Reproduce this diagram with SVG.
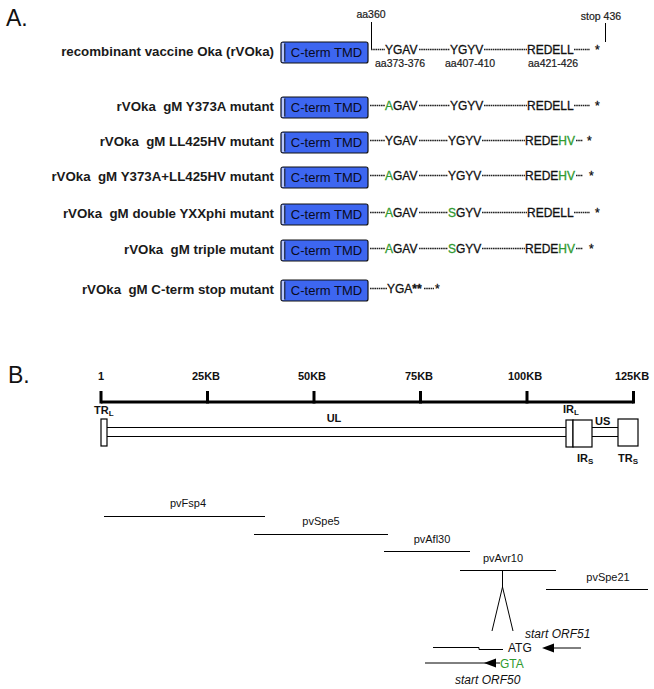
<svg xmlns="http://www.w3.org/2000/svg" width="654" height="689" viewBox="0 0 654 689">
<defs>
<style>
text{font-family:"Liberation Sans",Arial,sans-serif}
.hd{font-size:23px;fill:#111}
.lbl{font-size:13.3px;font-weight:bold;fill:#1a1a1a;text-anchor:end}
.seq{font-size:12px;fill:#111;stroke:#111;stroke-width:0.3}
.gr{fill:#2f9a2f;stroke:#2f9a2f}
.aa{font-size:10.5px;fill:#1a1a1a;stroke:#1a1a1a;stroke-width:0.2}
.box{fill:#3d66f0;stroke:#111;stroke-width:1.2}
.strip{fill:#b9c8fa;stroke:none}
.brk{fill:none;stroke:#111;stroke-width:1}
.tt{font-size:13px;fill:#0a0a20;text-anchor:middle}
.dsh{stroke:#222;stroke-width:1.5;stroke-dasharray:1.6 0.6;fill:none}
.ln{stroke:#000;stroke-width:1;fill:none}
.thk{stroke:#000;stroke-width:3;fill:none}
.gbox{fill:#fff;stroke:#000;stroke-width:1.2}
.rl{font-size:11px;font-weight:bold;fill:#111;text-anchor:middle}
.gl{font-size:11px;font-weight:bold;fill:#111}
.cl{font-size:11px;fill:#111;text-anchor:middle}
.orf{font-size:12px;fill:#111}
.it{font-size:12px;font-style:italic;fill:#111}
</style>
<g id="tmd">
<rect class="box" x="0" y="0" width="87" height="21" rx="2"/>
<rect class="strip" x="0.8" y="1" width="2.7" height="19"/>
<path class="brk" d="M3.8,1.5 V19.5"/>
<text class="tt" x="45.5" y="15">C-term TMD</text>
</g>
</defs>

<text class="hd" x="6" y="26">A.</text>
<text class="hd" x="8" y="383">B.</text>

<g id="row1">
<text class="lbl" x="274" y="56" xml:space="preserve">recombinant vaccine Oka (rVOka)</text>
<use href="#tmd" x="281" y="42"/>
<text class="seq" x="385" y="54">YGAV</text>
<text class="seq" x="450" y="54">YGYV</text>
<text class="seq" x="527" y="54">REDELL</text>
<text class="seq" x="595" y="54">*</text>
<text class="aa" x="371" y="18" text-anchor="middle">aa360</text>
<text class="aa" x="601" y="20" text-anchor="middle">stop 436</text>
<text class="aa" x="375" y="67">aa373-376</text>
<text class="aa" x="445" y="67">aa407-410</text>
<text class="aa" x="528" y="67">aa421-426</text>
</g>

<g id="row2">
<text class="lbl" x="274" y="111" xml:space="preserve">rVOka  gM Y373A mutant</text>
<use href="#tmd" x="281" y="97"/>
<text class="seq" x="385" y="110"><tspan class="gr">A</tspan>GAV</text>
<text class="seq" x="450" y="110">YGYV</text>
<text class="seq" x="527" y="110">REDELL</text>
<text class="seq" x="595" y="110">*</text>
</g>

<g id="row3">
<text class="lbl" x="274" y="146" xml:space="preserve">rVOka  gM LL425HV mutant</text>
<use href="#tmd" x="281" y="132"/>
<text class="seq" x="385" y="145">YGAV</text>
<text class="seq" x="448" y="145">YGYV</text>
<text class="seq" x="525" y="145">REDE<tspan class="gr">HV</tspan></text>
<text class="seq" x="587" y="145">*</text>
</g>

<g id="row4">
<text class="lbl" x="274" y="181" xml:space="preserve">rVOka  gM Y373A+LL425HV mutant</text>
<use href="#tmd" x="281" y="167"/>
<text class="seq" x="385" y="180"><tspan class="gr">A</tspan>GAV</text>
<text class="seq" x="448" y="180">YGYV</text>
<text class="seq" x="525" y="180">REDE<tspan class="gr">HV</tspan></text>
<text class="seq" x="589" y="180">*</text>
</g>

<g id="row5">
<text class="lbl" x="274" y="218" xml:space="preserve">rVOka  gM double YXXphi mutant</text>
<use href="#tmd" x="281" y="204"/>
<text class="seq" x="385" y="217"><tspan class="gr">A</tspan>GAV</text>
<text class="seq" x="448" y="217"><tspan class="gr">S</tspan>GYV</text>
<text class="seq" x="527" y="217">REDELL</text>
<text class="seq" x="595" y="217">*</text>
</g>

<g id="row6">
<text class="lbl" x="274" y="254" xml:space="preserve">rVOka  gM triple mutant</text>
<use href="#tmd" x="281" y="240"/>
<text class="seq" x="385" y="253"><tspan class="gr">A</tspan>GAV</text>
<text class="seq" x="448" y="253"><tspan class="gr">S</tspan>GYV</text>
<text class="seq" x="525" y="253">REDE<tspan class="gr">HV</tspan></text>
<text class="seq" x="589" y="253">*</text>
</g>

<g id="row7">
<text class="lbl" x="274" y="294" xml:space="preserve">rVOka  gM C-term stop mutant</text>
<use href="#tmd" x="281" y="280"/>
<text class="seq" x="387" y="293">YGA<tspan font-weight="bold">**</tspan></text>
<text class="seq" x="435" y="293">*</text>
</g>

<g id="ruler">
<path class="thk" d="M101,402 H633.5"/>
<path class="thk" d="M101,391 V403.5 M207.5,391 V403.5 M314,391 V403.5 M420.5,391 V403.5 M527,391 V403.5 M633.5,391 V403.5"/>
<text class="rl" x="101" y="380">1</text>
<text class="rl" x="206" y="380">25KB</text>
<text class="rl" x="312" y="380">50KB</text>
<text class="rl" x="419" y="380">75KB</text>
<text class="rl" x="525" y="380">100KB</text>
<text class="rl" x="632" y="380">125KB</text>
</g>

<g id="genome">
<path class="ln" stroke-width="1.3" d="M107,427.5 H566 M107,436.5 H566 M592,427.5 H618 M592,436.5 H618"/>
<rect class="gbox" x="101" y="419" width="6" height="27"/>
<rect class="gbox" x="566" y="420" width="7" height="27"/>
<rect class="gbox" x="573" y="420" width="19" height="27"/>
<rect class="gbox" x="618" y="419" width="20" height="27"/>
<text class="gl" x="94" y="414">TR<tspan font-size="8" dy="2">L</tspan></text>
<text class="gl" x="334" y="422" text-anchor="middle">UL</text>
<text class="gl" x="563" y="413">IR<tspan font-size="8" dy="2">L</tspan></text>
<text class="gl" x="595" y="425">US</text>
<text class="gl" x="577" y="462">IR<tspan font-size="8" dy="2">S</tspan></text>
<text class="gl" x="618" y="462">TR<tspan font-size="8" dy="2">S</tspan></text>
</g>

<g id="pvFsp4"><text class="cl" x="188" y="507">pvFsp4</text></g>
<g id="pvSpe5"><text class="cl" x="321" y="525">pvSpe5</text></g>
<g id="pvAfl30"><text class="cl" x="432" y="543">pvAfl30</text></g>
<g id="pvAvr10"><text class="cl" x="503" y="562">pvAvr10</text></g>
<g id="pvSpe21"><text class="cl" x="608" y="581">pvSpe21</text></g>

<g id="orf51">
<text class="orf" x="508" y="652">ATG</text>
<text class="it" x="525" y="638">start ORF51</text>
</g>
<g id="orf50">
<text class="orf" x="500" y="668" style="fill:#2f9a2f">GTA</text>
<text class="it" x="455" y="684">start ORF50</text>
</g>

<g id="connectors">
<path class="ln" d="M371.5,22 V50 M605.5,23 V42"/>
<path class="dsh" d="M371,49.5 H385 M419,49.5 H450 M484,49.5 H527 M574,49.5 H590"/>
<path class="dsh" d="M370,105.5 H385 M419,105.5 H450 M484,105.5 H527 M574,105.5 H590"/>
<path class="dsh" d="M370,140.5 H385 M419,140.5 H448 M482,140.5 H525 M576,140.5 H583"/>
<path class="dsh" d="M370,175.5 H385 M419,175.5 H448 M482,175.5 H525 M576,175.5 H583"/>
<path class="dsh" d="M370,212.5 H385 M419,212.5 H448 M482,212.5 H527 M574,212.5 H590"/>
<path class="dsh" d="M370,248.5 H385 M419,248.5 H448 M482,248.5 H525 M576,248.5 H583"/>
<path class="dsh" d="M370,288.5 H387 M424,288.5 H434"/>
<path class="ln" d="M104,516.5 H265 M254,534.5 H388 M384,551.5 H470 M460,570.5 H556 M546,589.5 H648"/>
<path class="ln" d="M502.5,570 V587 M502.5,587 L492,631 M502.5,587 L513,631"/>
<path class="ln" d="M433,647.5 H479 V649.5 H503"/>
<path class="ln" stroke-width="1.5" d="M554,648 H581"/>
<polygon points="542,648 554,643.5 554,652.5" fill="#000"/>
<path class="ln" stroke-width="1.5" d="M425,663 H500"/>
<polygon points="484,663 496,658.5 496,667.5" fill="#000"/>
</g>
</svg>
